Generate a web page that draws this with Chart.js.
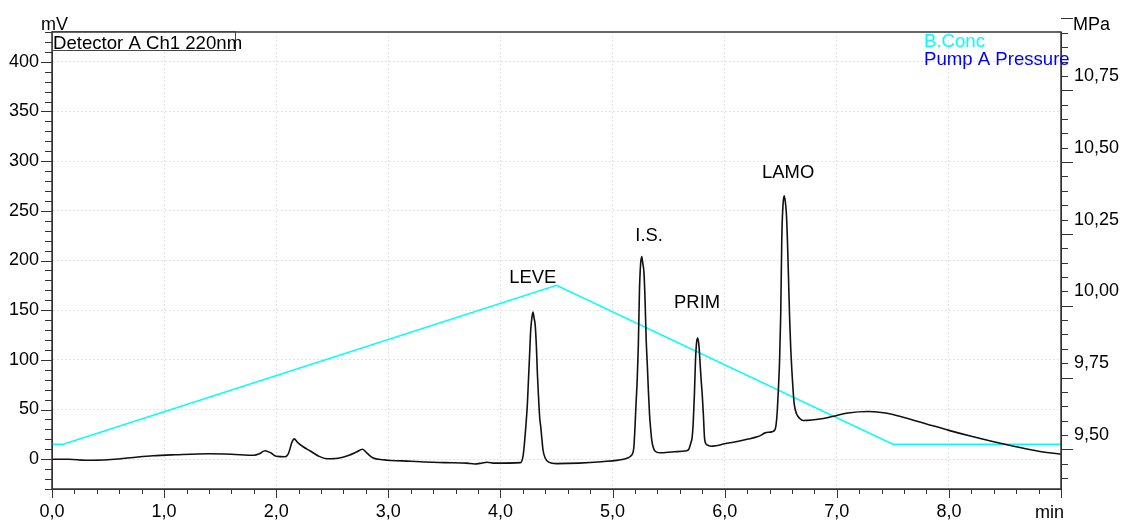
<!DOCTYPE html>
<html>
<head>
<meta charset="utf-8">
<script src="https://cdn.jsdelivr.net/npm/chart.js@4"></script>
<style>
html,body{margin:0;padding:0;background:#fff}
</style>
</head>
<body>
<canvas id="chrom" width="1123" height="522"></canvas>
<script>
"use strict"
// detector A ch1 trace (min, mV)
const sigTime = [0.00,0.15,0.30,0.50,0.70,0.90,1.10,1.40,1.60,1.80,1.85,1.90,1.95,2.00,2.08,2.11,2.14,2.16,2.19,2.24,2.30,2.38,2.45,2.55,2.65,2.72,2.77,2.81,2.86,2.95,3.20,3.50,3.70,3.77,3.83,3.88,3.95,4.18,
	4.20,4.21,4.22,4.23,4.24,4.25,4.26,4.27,4.28,4.29,4.30,4.31,4.32,4.33,4.34,4.35,4.36,4.37,4.38,4.40,4.43,4.50,4.70,4.90,5.10,5.14,
	5.16,5.18,5.19,5.20,5.21,5.22,5.23,5.24,5.25,5.26,5.27,5.28,5.29,5.30,5.31,5.32,5.33,5.34,5.35,5.36,5.38,5.42,5.55,5.66,
	5.68,5.69,5.70,5.71,5.72,5.73,5.74,5.75,5.76,5.77,5.78,5.79,5.80,5.81,5.82,5.83,5.85,5.88,5.92,6.00,6.10,6.20,6.29,6.33,6.36,6.42,
	6.45,6.46,6.47,6.48,6.49,6.50,6.51,6.52,6.53,6.54,6.55,6.56,6.57,6.58,6.59,6.60,6.61,6.62,6.64,6.67,6.70,6.78,6.88,7.00,7.10,7.28,7.40,7.50,7.60,7.80,8.00,8.20,8.40,8.60,8.80,9.00]
const sigMv = [0,0,-1,-0.5,1.5,3.5,4.5,5.5,5,4,5.5,8.5,6.5,3,2.5,6,17,20.5,17,12.5,8.5,3,0.5,1,4,7.5,10,6,1.5,-0.5,-2,-3.5,-4,-4.8,-4,-3,-4,-3.5,
	2,11,24,38,55,80,105,130,142,148,142,135,115,85,62,42,32,20,9,1,-3,-4.5,-4,-2.5,0,1.5,
	3,6,12,32,57,80,115,170,196,204,197,188,160,120,95,68,45,30,19,13,8,6.5,7.5,8.5,
	10,13,17,22,38,65,100,118,122,115,98,80,65,45,22,16,14,13,13.5,15.5,17.5,20,22.5,24.5,26.5,27.5,
	30,36,50,72,100,146,225,255,265,260,248,220,180,140,110,88,70,56,46,41,39,39.5,41,44,46.5,48,47,45,42,35.5,29,23,17.5,12.5,8,5]
// B.Conc gradient line, drawn against the mV axis
const concTime = [0,0.1,4.5,7.5,9.0]
const concVal = [15,15,175,15,15]
// peak names and where their text sits (min, mV)
const peakNames = ['LEVE','I.S.','PRIM','LAMO']
const peakTime = [4.288,5.326,5.754,6.566]
const peakMv = [177,219.5,152,283]
const xTicks = [0,1,2,3,4,5,6,7,8,9]
const yTicks = [0,50,100,150,200,250,300,350,400]
const y2Ticks = [9.5,9.75,10,10.25,10.5,10.75]

const FONT = '"Liberation Sans", Arial, sans-serif'
const comma = (v,d)=>v.toFixed(d).replace('.',',')

let sig = sigTime.map((t,i)=>({x:t,y:sigMv[i]}))
let conc = concTime.map((t,i)=>({x:t,y:concVal[i]}))

let decor = {
	id:'decor',
	afterDraw:(chart)=>{
		const c = chart.ctx, a = chart.chartArea
		const sx = chart.scales.x, sy = chart.scales.y, sy2 = chart.scales.y2
		c.save()
		c.strokeStyle = '#333'
		c.lineWidth = 1.5
		c.strokeRect(a.left, a.top, a.right-a.left, a.bottom-a.top)
		c.lineWidth = 1
		c.beginPath()
		// x ticks, minor every 0.2
		for(let v=0; v<=9.001; v+=0.2){
			let px = Math.round(sx.getPixelForValue(v))+0.5
			let major = Math.abs(v-Math.round(v))<0.01
			c.moveTo(px, a.bottom); c.lineTo(px, a.bottom+(major?9:5))
		}
		// left ticks, minor every 10
		for(let v=-30; v<=430; v+=10){
			let py = Math.round(sy.getPixelForValue(v))+0.5
			c.moveTo(a.left, py); c.lineTo(a.left-(v%50===0?11:7), py)
		}
		// right ticks, minor every 0.05
		for(let k=0; k<=32; k++){
			let v = 9.35+k*0.05
			let py = Math.round(sy2.getPixelForValue(v))+0.5
			let major = (k+3)%5===0
			c.moveTo(a.right, py); c.lineTo(a.right+(major?12:7), py)
		}
		c.stroke()

		c.font = '18px '+FONT
		c.fillStyle = '#000'
		c.textBaseline = 'alphabetic'
		c.textAlign = 'left'
		c.fillText('mV', 41, 30)
		c.fillText('MPa', 1073, 30)
		c.textAlign = 'right'
		c.fillText('min', 1064, 518)

		c.textAlign = 'left'
		c.strokeStyle = '#444'
		c.strokeRect(52.5, 31.5, 183, 19)
		c.font = '18.6px '+FONT
		c.fillText('Detector A Ch1 220nm', 53, 49)
		c.fillStyle = '#00ffff'
		c.fillText('B.Conc', 924, 47)
		c.fillStyle = '#0000ff'
		c.fillText('Pump A Pressure', 924, 65)

		c.font = '18.4px '+FONT
		c.fillStyle = '#000'
		c.textAlign = 'center'
		peakNames.forEach((n,i)=>{
			c.fillText(n, sx.getPixelForValue(peakTime[i]), sy.getPixelForValue(peakMv[i]))
		})
		c.restore()
	}
}

new Chart(document.getElementById('chrom'), {
	type:'line',
	data:{
		datasets:[
			{label:'Detector A Ch1 220nm', data:sig, borderColor:'#111', borderWidth:1.6,
				pointRadius:0, cubicInterpolationMode:'monotone', yAxisID:'y', order:1},
			{label:'B.Conc', data:conc, borderColor:'#00ffff', borderWidth:1.5,
				pointRadius:0, tension:0, yAxisID:'y', order:2}
		]
	},
	options:{
		responsive:false,
		animation:false,
		devicePixelRatio:1,
		layout:{padding:{top:32, left:0, right:0, bottom:0}},
		plugins:{legend:{display:false}, tooltip:{enabled:false}},
		scales:{
			x:{
				type:'linear', min:0, max:9, position:'bottom',
				afterBuildTicks:s=>{ s.ticks = xTicks.map(v=>({value:v})) },
				afterFit:s=>{ s.height = 33 },
				grid:{color:'#dadada', drawTicks:false},
				border:{color:'#333', dash:[1.5,2.5]},
				ticks:{font:{size:18, family:FONT}, color:'#000', padding:12, maxRotation:0, autoSkip:false,
					callback:v=>v===9 ? '' : comma(v,1)}
			},
			y:{
				min:-30, max:430, position:'left',
				afterBuildTicks:s=>{ s.ticks = yTicks.map(v=>({value:v})) },
				afterFit:s=>{ s.width = 52 },
				grid:{color:'#dadada', drawTicks:false},
				border:{color:'#333', dash:[1.5,2.5]},
				ticks:{font:{size:18, family:FONT}, color:'#000', padding:13, callback:v=>String(v)}
			},
			y2:{
				min:9.312, max:10.903, position:'right',
				afterBuildTicks:s=>{ s.ticks = y2Ticks.map(v=>({value:v})) },
				afterFit:s=>{ s.width = 62 },
				grid:{display:false, drawTicks:false},
				border:{color:'#333'},
				ticks:{font:{size:18, family:FONT}, color:'#000', padding:13, callback:v=>comma(v,2)}
			}
		}
	},
	plugins:[decor]
})
</script>
</body>
</html>
